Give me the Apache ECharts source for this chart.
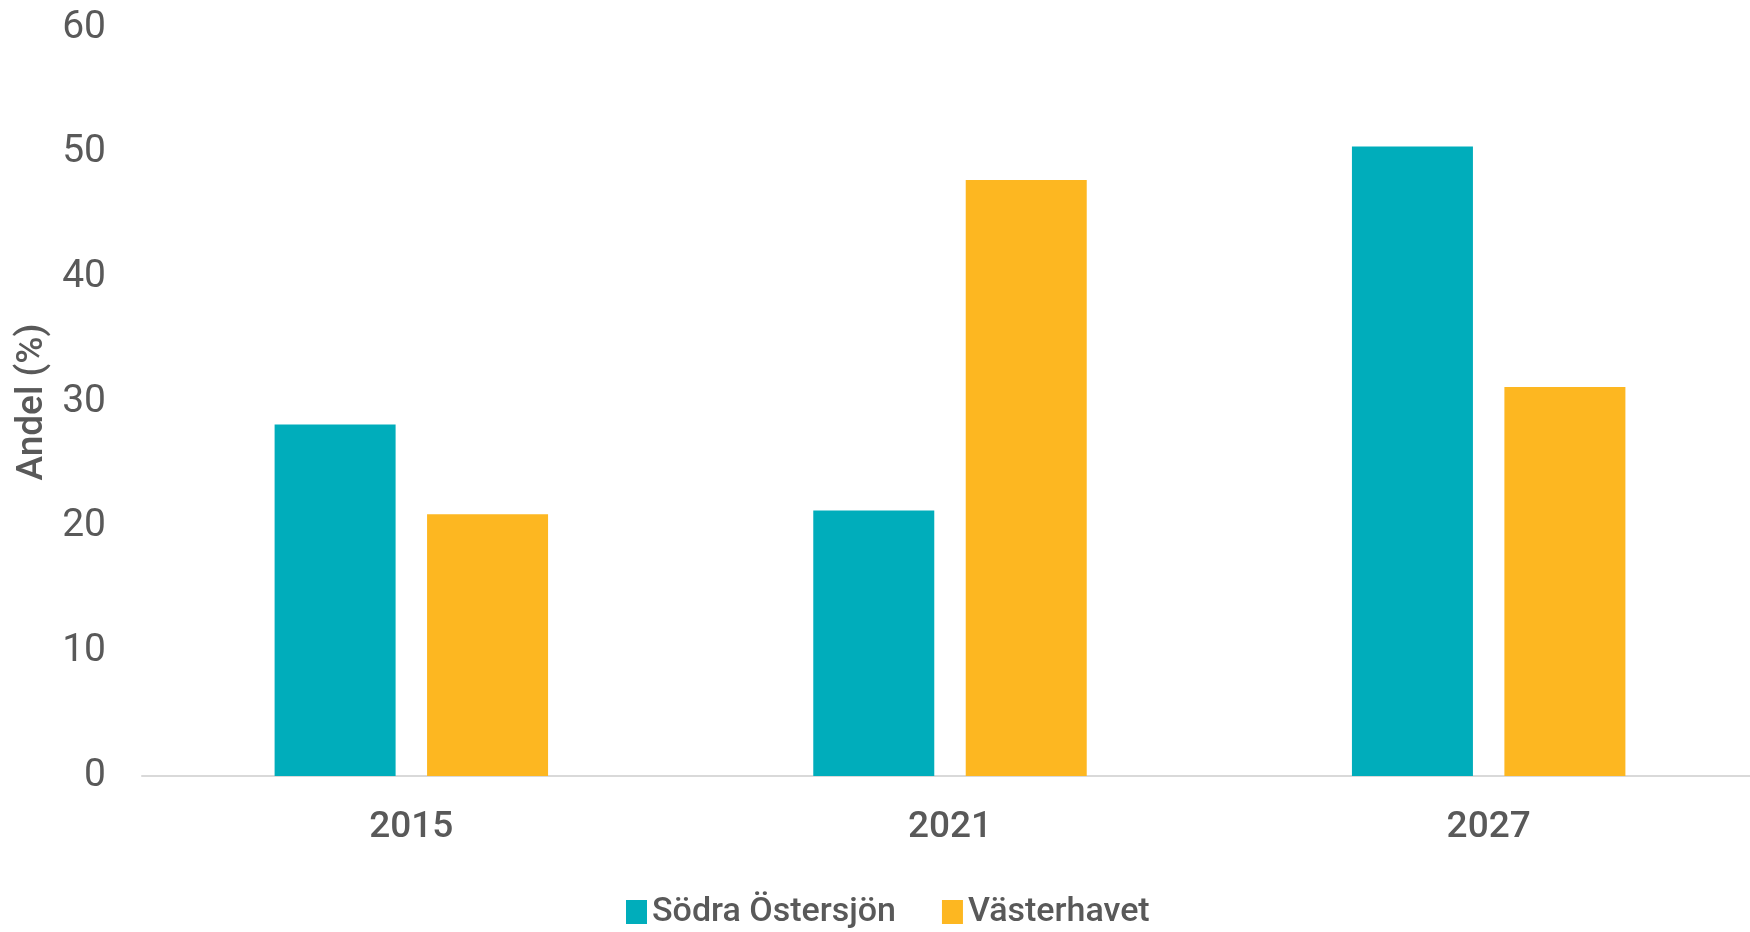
<!DOCTYPE html>
<html>
<head>
<meta charset="utf-8">
<script src="https://cdn.jsdelivr.net/npm/echarts@6/dist/echarts.min.js"></script>
<style>
  html, body { margin: 0; padding: 0; background: #fff; }
  #main { width: 1750px; height: 932px; }
</style>
</head>
<body>
<div id="main"></div>
<script>
// kategorier och värden (andel i %)
var years = ['2015', '2021', '2027'];
var sodraOstersjon = [28.2, 21.3, 50.5];
var vasterhavet = [21.0, 47.8, 31.2];
var seriesNames = ['Södra Östersjön', 'Västerhavet'];

var font = "Roboto, 'Liberation Sans', sans-serif";
var textColor = '#595959';

var myChart = echarts.init(document.getElementById('main'));

var option = {
  animation: false,
  backgroundColor: '#fff',
  color: ['#00ADBB', '#FDB721'],
  grid: {
    left: 142,
    top: 28,
    width: 1616,
    bottom: 156,
    containLabel: false,
    outerBoundsMode: 'none'
  },
  legend: {
    data: seriesNames,
    left: 621,
    top: 890,
    itemWidth: 21,
    itemHeight: 24,
    itemGap: 46,
    icon: 'rect',
    textStyle: {
      color: textColor,
      fontSize: 34,
      fontWeight: 500,
      fontFamily: font
    }
  },
  xAxis: {
    type: 'category',
    data: years,
    axisLine: { lineStyle: { color: '#D9D9D9', width: 2 } },
    axisTick: { show: false },
    axisLabel: {
      color: textColor,
      fontSize: 37,
      fontWeight: 500,
      fontFamily: font,
      margin: 33
    }
  },
  yAxis: {
    type: 'value',
    min: 0,
    max: 60,
    interval: 10,
    name: 'Andel (%)',
    nameLocation: 'middle',
    nameGap: 86,
    nameTextStyle: {
      color: textColor,
      fontSize: 37,
      fontWeight: 500,
      fontFamily: font
    },
    axisLine: { show: false },
    axisTick: { show: false },
    splitLine: { show: false },
    axisLabel: {
      color: textColor,
      fontSize: 39,
      fontFamily: font,
      margin: 36
    }
  },
  series: [
    {
      name: seriesNames[0],
      type: 'bar',
      data: sodraOstersjon,
      barWidth: 121,
      barGap: '26%'
    },
    {
      name: seriesNames[1],
      type: 'bar',
      data: vasterhavet,
      barWidth: 121,
      barGap: '26%'
    }
  ]
};

myChart.setOption(option);
</script>
</body>
</html>
